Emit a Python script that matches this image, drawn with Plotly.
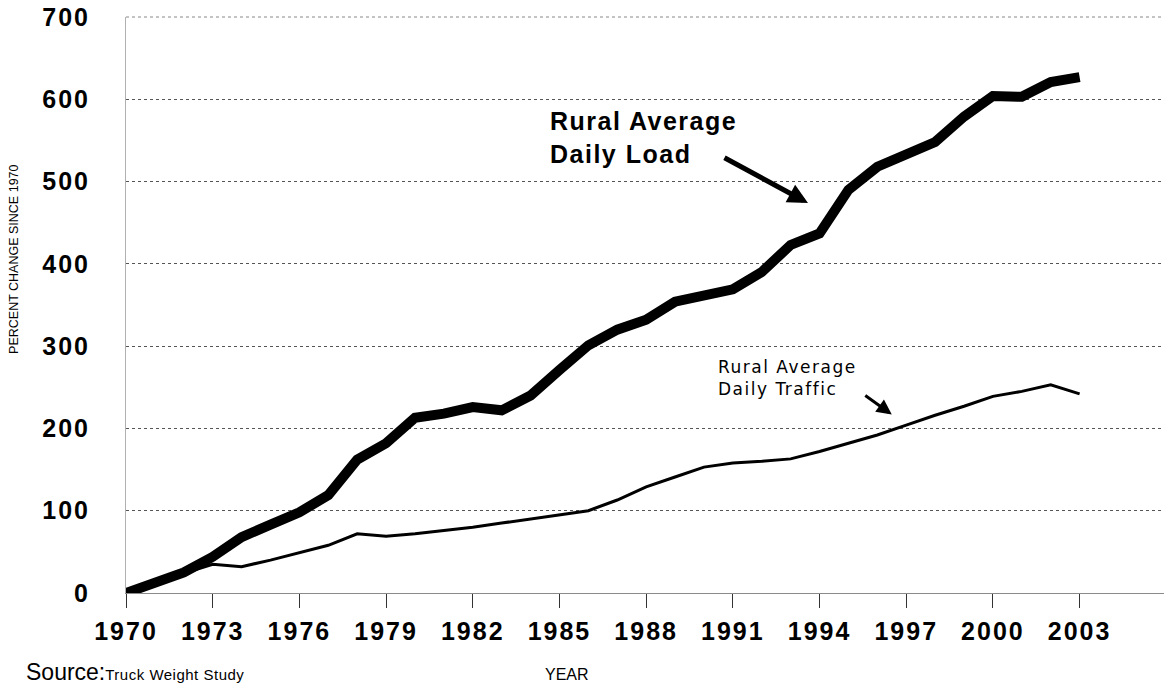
import plotly.graph_objects as go

years = list(range(1970, 2004))
load = [0, 12, 25, 44, 68, 83, 98, 119, 162, 182, 213, 218, 226, 222, 240, 271, 301, 320, 332, 354,
        362, 369, 390, 423, 437, 490, 518, 532, 548, 579, 604, 603, 621, 627]
traffic = [0, 12, 24, 35, 32, 40, 49, 58, 72, 69, 72, 76, 80, 85, 90, 95, 100, 113, 129, 141,
           153, 158, 160, 163, 172, 182, 192, 204, 216, 227, 239, 245, 253, 242]
x_ticks = list(range(1970, 2004, 3))
y_ticks = list(range(0, 701, 100))

FONT = "Liberation Sans, Arial, sans-serif"
SP = "<span style='letter-spacing:2px'>{}</span>"

fig = go.Figure()
fig.add_trace(go.Scatter(x=years, y=traffic, mode="lines",
                         line=dict(color="black", width=3), showlegend=False))
fig.add_trace(go.Scatter(x=years, y=load, mode="lines",
                         line=dict(color="black", width=10), showlegend=False))

fig.update_layout(
    width=1164, height=688,
    margin=dict(l=126, r=0, t=17, b=95),
    paper_bgcolor="white", plot_bgcolor="white",
    showlegend=False,
    xaxis=dict(
        range=[1970, 2005.92], tickvals=x_ticks, ticktext=[SP.format(v) for v in x_ticks],
        showgrid=False, zeroline=False, showline=True, linecolor="#8a8a8a", linewidth=1,
        ticks="outside", ticklen=14, tickwidth=1, tickcolor="#333",
        tickfont=dict(family=FONT, size=25, color="black", weight="bold"),
        ticklabelstandoff=2, ticklabeloverflow="allow",
    ),
    yaxis=dict(
        range=[0, 700], tickvals=y_ticks, ticktext=[SP.format(v) for v in y_ticks],
        showgrid=True, gridcolor="#555", griddash="dot", gridwidth=1,
        zeroline=False, showline=True, linecolor="#b0b0b0", linewidth=1,
        ticks="", tickfont=dict(family=FONT, size=25, color="black", weight="bold"),
        ticklabelstandoff=30, ticklabeloverflow="allow",
    ),
    shapes=[dict(type="line", xref="paper", yref="paper", x0=0, x1=1, y0=1, y1=1,
                 line=dict(color="#888", width=1, dash="dot"))],
)

annotations = [
    dict(text="PERCENT CHANGE SINCE 1970", xref="paper", yref="paper",
         x=-0.1079, y=0.58, xanchor="center", yanchor="middle", textangle=-90, showarrow=False,
         font=dict(family=FONT, size=12.5, color="black")),
    dict(text="YEAR", xref="paper", yref="paper", x=0.425, y=-0.142,
         xanchor="center", yanchor="middle",
         showarrow=False, font=dict(family=FONT, size=16, color="black")),
    dict(text="Source:<span style='font-size:15px;letter-spacing:0.5px'>Truck Weight Study</span>",
         xref="paper", yref="paper", x=-0.098, y=-0.163, xanchor="left", yanchor="bottom",
         showarrow=False, font=dict(family=FONT, size=23, color="black")),
    dict(text="<span style='letter-spacing:1.5px'>Rural Average<br>Daily Load</span>",
         xref="x", yref="y", x=1984.6, y=554,
         xanchor="left", yanchor="middle", align="left", showarrow=False,
         font=dict(family=FONT, size=25, color="black", weight="bold")),
    dict(text="", xref="x", yref="y", x=1993.6, y=474, ax=-85, ay=-46,
         showarrow=True, arrowhead=2, arrowsize=0.8, arrowwidth=5, arrowcolor="black"),
    dict(text="<span style='letter-spacing:1.5px'>Rural Average<br>Daily Traffic</span>",
         xref="x", yref="y", x=1990.4, y=261,
         xanchor="left", yanchor="middle", align="left", showarrow=False,
         font=dict(family="DejaVu Sans, sans-serif", size=17, color="black")),
    dict(text="", xref="x", yref="y", x=1996.5, y=217, ax=-28, ay=-20,
         showarrow=True, arrowhead=2, arrowsize=1, arrowwidth=3, arrowcolor="black"),
]
fig.update_layout(annotations=annotations)

fig.write_html("out.html", config={"displayModeBar": False},
               post_script="document.body.style.margin='0';")
